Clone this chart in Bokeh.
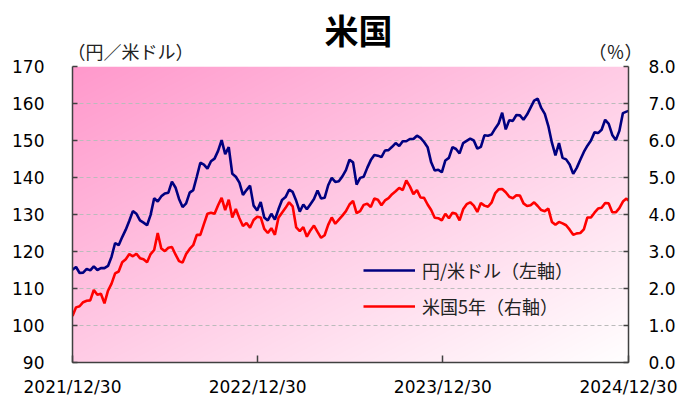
import numpy as np
import pandas as pd
from bokeh.plotting import figure
from bokeh.models import (Range1d, LinearAxis, FixedTicker, NumeralTickFormatter,
                          Legend, LegendItem, ColumnDataSource)
from bokeh.embed import file_html
from bokeh.resources import INLINE

# ---------------- data (weekly) ----------------
usdjpy_2022 = [115.1, 115.8, 114.2, 114.3, 115.3, 114.9, 116.0, 115.0, 115.5, 115.5,
               116.1, 118.6, 122.3, 121.7, 123.9, 125.9, 128.3, 130.9, 130.2, 128.4,
               127.8, 127.1, 129.9, 134.4, 133.5, 134.9, 135.7, 135.9, 138.9, 137.3,
               134.2, 132.0, 133.0, 135.9, 136.6, 140.2, 144.0, 143.5, 142.4, 144.4,
               145.1, 147.2, 150.1, 146.3, 148.2, 141.0, 140.2, 138.6, 135.3, 136.6,
               137.8, 132.4, 131.1]
usdjpy_2023 = [133.4, 129.2, 128.4, 130.2, 128.6, 131.4, 133.9, 134.7, 136.7, 136.1,
               133.7, 130.8, 132.7, 131.4, 132.8, 134.2, 136.5, 134.3, 134.5, 137.9,
               139.9, 138.8, 139.0, 140.3, 142.0, 144.8, 144.1, 138.1, 139.9, 140.2,
               142.6, 144.7, 146.1, 145.9, 145.5, 147.3, 147.4, 148.3, 149.3, 148.5,
               149.8, 149.8, 150.4, 150.4, 151.3, 150.7, 149.6, 148.2, 144.1, 141.9,
               142.1, 141.4]
usdjpy_2024 = [144.6, 145.3, 148.2, 147.7, 146.5, 149.3, 149.9, 150.5, 150.0, 147.8,
               148.3, 151.4, 151.3, 151.6, 153.2, 154.6, 157.5, 153.0, 155.5, 155.3,
               156.9, 156.8, 155.6, 157.0, 158.9, 160.8, 161.3, 158.8, 157.2, 153.9,
               149.4, 146.0, 149.3, 145.3, 144.9, 143.5, 141.0, 142.6, 144.8, 146.9,
               148.6, 150.0, 152.2, 152.0, 152.9, 155.6, 154.5, 151.5, 150.1, 152.6,
               157.4, 157.8, 158.0]

us5y_2022 = [1.26, 1.49, 1.52, 1.63, 1.67, 1.68, 1.96, 1.83, 1.86, 1.60,
             1.94, 2.13, 2.41, 2.46, 2.71, 2.79, 2.93, 2.87, 2.94, 2.82,
             2.79, 2.71, 2.93, 3.04, 3.50, 3.08, 3.01, 3.10, 3.12, 2.92,
             2.74, 2.70, 2.93, 3.07, 3.17, 3.45, 3.45, 3.74, 4.02, 4.05,
             4.02, 4.25, 4.45, 4.12, 4.40, 3.92, 4.15, 3.90, 3.69, 3.77,
             3.64, 3.85, 3.94]
us5y_2023 = [3.92, 3.61, 3.50, 3.63, 3.45, 3.91, 4.05, 4.18, 4.33, 4.22,
             3.65, 3.55, 3.66, 3.40, 3.57, 3.70, 3.53, 3.37, 3.44, 3.72,
             3.92, 3.75, 3.86, 3.97, 4.09, 4.27, 4.37, 4.04, 4.09, 4.26,
             4.29, 4.20, 4.43, 4.40, 4.25, 4.38, 4.44, 4.55, 4.63, 4.72,
             4.66, 4.92, 4.76, 4.55, 4.66, 4.46, 4.45, 4.27, 4.12, 3.91,
             3.90, 3.84]
us5y_2024 = [4.02, 3.90, 4.05, 4.02, 3.84, 4.14, 4.28, 4.33, 4.24, 4.07,
             4.31, 4.24, 4.21, 4.32, 4.57, 4.68, 4.69, 4.60, 4.48, 4.44,
             4.52, 4.51, 4.30, 4.23, 4.25, 4.33, 4.23, 4.12, 4.09, 4.16,
             3.80, 3.72, 3.80, 3.76, 3.71, 3.59, 3.45, 3.49, 3.50, 3.60,
             3.92, 3.92, 4.05, 4.16, 4.18, 4.31, 4.30, 4.06, 4.06, 4.17,
             4.35, 4.43, 4.38]

usdjpy = usdjpy_2022 + usdjpy_2023 + usdjpy_2024
us5y = us5y_2022 + us5y_2023 + us5y_2024

dates = pd.date_range("2021-12-30", periods=157, freq="7D").append(
    pd.DatetimeIndex(["2024-12-30"]))

tick_dates = ["2021-12-30", "2022-12-30", "2023-12-30", "2024-12-30"]
tick_labels = ["2021/12/30", "2022/12/30", "2023/12/30", "2024/12/30"]
left_ticks = [90, 100, 110, 120, 130, 140, 150, 160, 170]
right_ticks = [0, 1, 2, 3, 4, 5, 6, 7, 8]

title_text = "米国"
left_unit = "（円／米ドル）"
right_unit = "（％）"
name_fx = "円/米ドル（左軸）"
name_yield = "米国5年（右軸）"

# ---------------- figure ----------------
x0 = pd.Timestamp(tick_dates[0])
x1 = pd.Timestamp(tick_dates[-1])
x0_ms = x0.value // 10**6
x1_ms = x1.value // 10**6

FW = 556  # plot-area width in px
p = figure(width=684, height=403, x_axis_type="datetime",
           x_range=Range1d(x0_ms, x1_ms), y_range=Range1d(90, 170),
           output_backend="svg", toolbar_location=None,
           min_border_left=72, min_border_right=56,
           min_border_top=66, min_border_bottom=41)
p.extra_y_ranges = {"y2": Range1d(0, 8)}
p.extra_x_ranges = {"px": Range1d(0, FW)}
p.outline_line_color = None
p.background_fill_color = "white"
p.border_fill_color = "white"

# gradient background of the plot area
H, W = 296, FW
u = np.linspace(0, 1, W)[None, :]
v = np.linspace(0, 1, H)[:, None]          # 0 bottom .. 1 top
t = np.clip((u + (1 - v)) / 2.0, 0, 1)
c0 = np.array([255, 153, 204], dtype=float)
c1 = np.array([255, 255, 255], dtype=float)
img = np.empty((H, W), dtype=np.uint32)
view = img.view(dtype=np.uint8).reshape((H, W, 4))
for k in range(3):
    view[:, :, k] = (c0[k] + (c1[k] - c0[k]) * t).astype(np.uint8)
view[:, :, 3] = 255
p.image_rgba(image=[img], x=x0_ms, y=90, dw=x1_ms - x0_ms, dh=80, level="image")

src = ColumnDataSource(dict(d=dates, fx=usdjpy, yl=us5y))
r_fx = p.line("d", "fx", source=src, line_color="#000080", line_width=2.6)
r_yl = p.line("d", "yl", source=src, line_color="#FF0000", line_width=2.6,
              y_range_name="y2")

# grid
p.xgrid.visible = False
p.ygrid.ticker = FixedTicker(ticks=left_ticks)
p.ygrid.grid_line_color = "#BBBBBB"
p.ygrid.grid_line_dash = "4 3"
p.ygrid.grid_line_width = 1

axis_font = "DejaVu Sans"
axis_size = "17px"
axis_col = "#404040"
cjk = "Noto Sans CJK JP"


def style_axis(ax, standoff, tick_in=5):
    ax.major_tick_in = tick_in
    ax.major_tick_out = 0
    ax.minor_tick_line_color = None
    ax.axis_line_color = axis_col
    ax.axis_line_width = 1.5
    ax.major_tick_line_color = axis_col
    ax.major_tick_line_width = 1.5
    ax.major_label_standoff = standoff
    ax.major_label_text_font = axis_font
    ax.major_label_text_font_size = axis_size
    ax.major_label_text_color = "black"


# left axis
ya = p.yaxis[0]
ya.ticker = FixedTicker(ticks=left_ticks)
style_axis(ya, 28)

# right axis
ra = LinearAxis(y_range_name="y2", ticker=FixedTicker(ticks=right_ticks),
                formatter=NumeralTickFormatter(format="0.0"))
style_axis(ra, 20)
p.add_layout(ra, "right")

# bottom axis
xa = p.xaxis[0]
tick_ms = [pd.Timestamp(d).value // 10**6 for d in tick_dates]
xa.ticker = FixedTicker(ticks=tick_ms)
xa.major_label_overrides = {int(m): lab for m, lab in zip(tick_ms, tick_labels)}
style_axis(xa, 14, tick_in=7)

# unit captions above the plot area (an unlined axis used as a text row)
unit_pos = [58, 543]
ua = LinearAxis(x_range_name="px", ticker=FixedTicker(ticks=unit_pos))
ua.major_label_overrides = {unit_pos[0]: left_unit, unit_pos[1]: right_unit}
ua.axis_line_color = None
ua.major_tick_line_color = None
ua.minor_tick_line_color = None
ua.major_tick_in = 0
ua.major_tick_out = 0
ua.major_label_standoff = 3
ua.major_label_text_font = cjk
ua.major_label_text_font_size = "18px"
ua.major_label_text_color = "#222222"
p.add_layout(ua, "above")

# chart title row
title_pos = [286]
ta = LinearAxis(x_range_name="px", ticker=FixedTicker(ticks=title_pos))
ta.major_label_overrides = {title_pos[0]: title_text}
ta.axis_line_color = None
ta.major_tick_line_color = None
ta.minor_tick_line_color = None
ta.major_tick_in = 0
ta.major_tick_out = 0
ta.major_label_standoff = -19
ta.major_label_text_font = cjk
ta.major_label_text_font_size = "34px"
ta.major_label_text_font_style = "bold"
ta.major_label_text_color = "black"
p.add_layout(ta, "above")

# legend
legend = Legend(items=[LegendItem(label=name_fx, renderers=[r_fx]),
                       LegendItem(label=name_yield, renderers=[r_yl])],
                location=(291, 43), orientation="vertical",
                glyph_width=52, glyph_height=24, label_height=24,
                label_standoff=7, spacing=10, padding=0, margin=0,
                background_fill_alpha=0, border_line_alpha=0,
                label_text_font=cjk, label_text_font_size="18px",
                label_text_color="#222222")
p.add_layout(legend)

open("out.html", "w").write(file_html(p, INLINE))
